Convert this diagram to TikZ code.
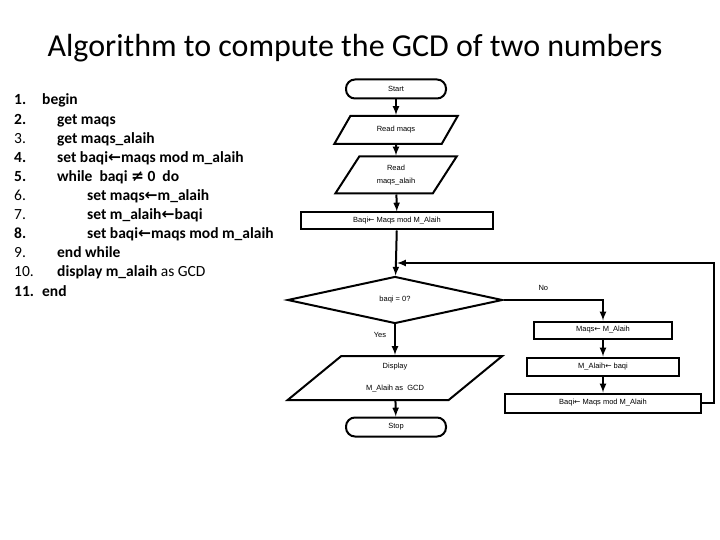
\documentclass[tikz,border=0pt]{standalone}
\usepackage{fontspec}
\setmainfont{Carlito}
\newfontfamily\chartfont{Liberation Sans}
\newfontfamily\symfont{DejaVu Sans}
\newcommand{\getsarrow}{{\symfont\char"2190}}
\newcommand{\notequal}{{\symfont\char"2260}}
\usetikzlibrary{shapes.geometric}
\usetikzlibrary{positioning}

\begin{document}
\begin{tikzpicture}[x=1pt, y=-1pt,
    chart/.style={draw, line width=2pt, inner sep=0pt, font=\chartfont\fontsize{7.5}{9}\selectfont},
    term/.style={chart, rectangle, rounded corners=9pt, minimum width=100pt, minimum height=19pt},
    io/.style={chart, trapezium, trapezium stretches=true, align=center},
    proc/.style={chart, rectangle, minimum height=17pt},
    decide/.style={chart, diamond, minimum width=215pt, minimum height=47pt},
    flow/.style={line width=2pt, -latex},
    tag/.style={inner sep=0pt, font=\chartfont\fontsize{7.5}{9}\selectfont},
    code/.style={anchor=base west, inner sep=0pt, font=\fontsize{15.5}{18}\selectfont\bfseries}]
  \useasboundingbox (0,0) rectangle (720,540);

  \node[font=\fontsize{32}{36}\selectfont] (title) at (355,48) {Algorithm to compute the GCD of two numbers};

  % pseudocode
  \foreach \k/\num/\ind/\txt in {1/1./42/begin, 2/2./57/get maqs, 3/\textmd{3.}/57/get maqs\_alaih,
      4/4./57/set baqi\getsarrow maqs mod m\_alaih, 5/5./57/while~~baqi \notequal{} 0~~do,
      6/\textmd{6.}/87/set maqs\getsarrow m\_alaih, 7/\textmd{7.}/87/set m\_alaih\getsarrow baqi,
      8/8./87/set baqi\getsarrow maqs mod m\_alaih, 9/\textmd{9.}/57/end while,
      10/\textmd{10.}/57/display m\_alaih \textmd{as GCD}, 11/11./42/end} {
    \node[code] (num\k) at (14,{105+(\k-1)*19.1}) {\num};
    \node[code] (line\k) at (\ind,{105+(\k-1)*19.1}) {\txt};
  }

  % main column
  \node[term] (start) at (396,89) {Start};
  \node[io, trapezium left angle=46, trapezium right angle=134, minimum width=124pt, minimum height=28pt] (readm) at (396,130) {Read maqs};
  \node[io, trapezium left angle=58, trapezium right angle=122, minimum width=122pt, minimum height=37pt] (reada) at (396,175) {Read\\[4pt]maqs\_alaih};
  \node[proc, minimum width=192pt] (baqia) at (397,221) {Baqi\getsarrow{} Maqs mod M\_Alaih};
  \node[decide] (test) at (395,300) {baqi = 0?};
  \node[io, trapezium left angle=45, trapezium right angle=135, minimum width=215pt, minimum height=44pt] (show) at (395,378) {Display\\[13pt]M\_Alaih as~~GCD};
  \node[term] (stop) at (396,427) {Stop};

  % loop body
  \node[proc, minimum width=138pt] (maqs) at (603,330) {Maqs\getsarrow{} M\_Alaih};
  \node[proc, minimum width=152pt, minimum height=18pt, below=17pt of maqs] (malaih) {M\_Alaih\getsarrow{} baqi};
  \node[proc, minimum width=196pt, minimum height=19pt, below=16pt of malaih] (baqib) {Baqi\getsarrow{} Maqs mod M\_Alaih};

  \coordinate (corner) at (714,263);

  \draw[flow] (start) -- (readm);
  \draw[flow] (readm) -- (reada);
  \draw[flow] (reada) -- (baqia);
  \draw[flow] (baqia) -- (test);
  \draw[flow] (test) -- node[tag, left=8pt, pos=0.35] {Yes} (show);
  \draw[flow] (show) -- (stop);
  \draw[flow] (test.east) -| node[tag, above=8pt, pos=0.2] {No} (maqs);
  \draw[flow] (maqs) -- (malaih);
  \draw[flow] (malaih) -- (baqib);
  \draw[flow] (baqib.east) -| (corner) -- (baqia |- corner);
\end{tikzpicture}
\end{document}
